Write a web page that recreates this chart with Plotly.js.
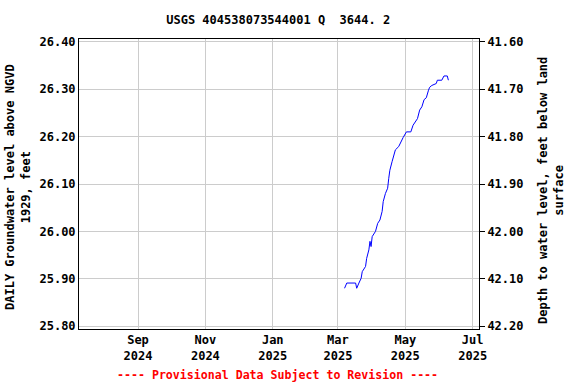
<!DOCTYPE html>
<html>
<head>
<meta charset="utf-8">
<script src="https://cdn.plot.ly/plotly-3.0.1.min.js"></script>
<style>html,body{margin:0;padding:0;background:#fff;}#chart{width:576px;height:384px;}</style>
</head>
<body>
<div id="chart"></div>
<script>
const dates = ["2025-03-07","2025-03-09","2025-03-17","2025-03-18","2025-03-20","2025-03-22","2025-03-23","2025-03-26","2025-03-27","2025-03-29","2025-03-30","2025-03-31","2025-04-01","2025-04-04","2025-04-06","2025-04-08","2025-04-10","2025-04-11","2025-04-13","2025-04-15","2025-04-16","2025-04-17","2025-04-19","2025-04-21","2025-04-22","2025-04-25","2025-04-27","2025-04-29","2025-05-02","2025-05-06","2025-05-08","2025-05-10","2025-05-12","2025-05-14","2025-05-16","2025-05-18","2025-05-20","2025-05-22","2025-05-23","2025-05-25","2025-05-29","2025-05-30","2025-06-03","2025-06-05","2025-06-08","2025-06-09"];
const levels = [25.880,25.891,25.891,25.880,25.891,25.901,25.915,25.926,25.943,25.961,25.979,25.968,25.989,26.000,26.017,26.024,26.042,26.063,26.080,26.091,26.112,26.129,26.147,26.161,26.172,26.179,26.189,26.198,26.210,26.210,26.224,26.231,26.238,26.256,26.263,26.278,26.282,26.298,26.304,26.308,26.312,26.319,26.319,26.328,26.328,26.319];
const landSurface = 68.00;
const depths = levels.map(v => +(landSurface - v).toFixed(3));
const xTickVals = ["2024-09-01","2024-11-01","2025-01-01","2025-03-01","2025-05-01","2025-07-01"];
const xTickText = ["Sep<br>2024","Nov<br>2024","Jan<br>2025","Mar<br>2025","May<br>2025","Jul<br>2025"];
const leftTickVals = [25.80,25.90,26.00,26.10,26.20,26.30,26.40];
const leftTickText = ["25.80","25.90","26.00","26.10","26.20","26.30","26.40"];
const rightTickVals = [41.60,41.70,41.80,41.90,42.00,42.10,42.20];
const rightTickText = ["41.60","41.70","41.80","41.90","42.00","42.10","42.20"];

const F = "DejaVu Sans Mono, monospace";
const font = {family: F, size: 12, color: "#000", weight: "bold"};
const yLow = 25.794, yHigh = 26.406;

const traces = [
  {x: dates, y: levels, type: "scatter", mode: "lines", line: {color: "#0000FF", width: 1}, hoverinfo: "skip", showlegend: false},
  {x: dates, y: depths, type: "scatter", mode: "lines", yaxis: "y2", line: {color: "rgba(0,0,0,0)", width: 0}, hoverinfo: "skip", showlegend: false}
];

const PW = 400, PH = 290;
const layout = {
  width: 576, height: 384,
  margin: {l: 79, r: 97, t: 39, b: 55, pad: 0},
  paper_bgcolor: "#fff", plot_bgcolor: "#fff",
  font: font,
  showlegend: false,
  title: {text: "USGS 404538073544001 Q  3644. 2", font: font, x: 0.483, xanchor: "center", y: 1 - 20/384, yref: "container", yanchor: "middle"},
  xaxis: {
    type: "date", range: ["2024-07-09 14:00", "2025-07-06 17:00"],
    tickvals: xTickVals, ticktext: xTickText, tickfont: font,
    showgrid: true, gridcolor: "#cccccc", gridwidth: 1,
    showline: true, linecolor: "#000", linewidth: 1, mirror: true,
    ticks: "", zeroline: false, fixedrange: true
  },
  yaxis: {
    range: [yLow, yHigh], tickvals: leftTickVals, ticktext: leftTickText, tickfont: font,
    showgrid: true, gridcolor: "#cccccc", gridwidth: 1,
    showline: true, linecolor: "#000", linewidth: 1, mirror: true,
    ticks: "", ticklen: 0, zeroline: false
  },
  yaxis2: {
    overlaying: "y", side: "right",
    range: [landSurface - yLow, landSurface - yHigh],
    tickvals: rightTickVals, ticktext: rightTickText, tickfont: font,
    showgrid: false, zeroline: false, showline: false,
    ticks: "outside", ticklen: 5, tickcolor: "#000"
  },
  annotations: [
    {text: "DAILY Groundwater level above NGVD<br>1929, feet", textangle: -90, xref: "paper", yref: "paper", x: (18 - 79)/PW, y: (329 - 187)/PH, xanchor: "center", yanchor: "middle", showarrow: false, font: font},
    {text: "Depth to water level, feet below land<br>surface", textangle: -90, xref: "paper", yref: "paper", x: (551 - 79)/PW, y: (329 - 191)/PH, xanchor: "center", yanchor: "middle", showarrow: false, font: font},
    {text: "---- Provisional Data Subject to Revision ----", xref: "paper", yref: "paper", x: (277 - 79)/PW, y: (329 - 375)/PH, xanchor: "center", yanchor: "middle", showarrow: false, font: {family: F, size: 11.6, color: "#FF0000", weight: "bold"}}
  ]
};

Plotly.newPlot("chart", traces, layout, {staticPlot: true, displayModeBar: false});
</script>
</body>
</html>
